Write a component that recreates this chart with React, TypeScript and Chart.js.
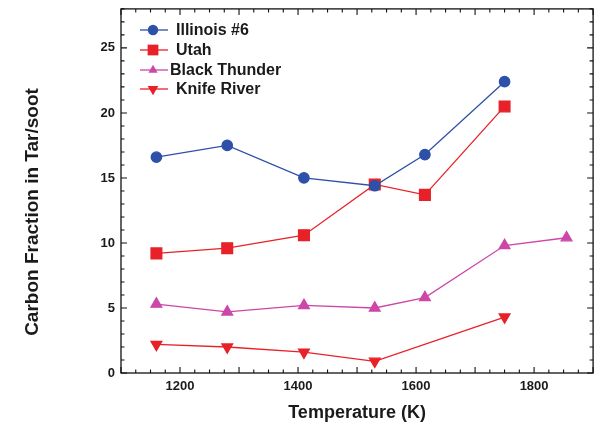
import React, { useEffect, useRef } from "react";
import { Chart, registerables } from "chart.js";

Chart.register(...registerables);

const temperatures = [1160, 1280, 1410, 1530, 1615, 1750, 1855];
const illinois = [16.6, 17.5, 15.0, 14.4, 16.8, 22.4];
const utah = [9.2, 9.6, 10.6, 14.5, 13.7, 20.5];
const blackThunder = [5.3, 4.7, 5.2, 5.0, 5.8, 9.8, 10.4];
const knifeRiverTemps = [1160, 1280, 1410, 1530, 1750];
const knifeRiver = [2.2, 2.0, 1.6, 0.9, 4.3];
const seriesNames = ["Illinois #6", "Utah", "Black Thunder", "Knife River"];
const xTickLabels = [1200, 1400, 1600, 1800];
const yTickLabels = [0, 5, 10, 15, 20, 25];
const xTitle = "Temperature (K)";
const yTitle = "Carbon Fraction in Tar/soot";

const FONT = "'Liberation Sans', Arial, sans-serif";

function drawMarker(ctx: any, style: string, x: number, y: number, r: number, rot: number) {
  ctx.beginPath();
  if (style === "circle") {
    ctx.arc(x, y, r, 0, Math.PI * 2);
  } else if (style === "rect") {
    const s = Math.SQRT1_2 * r;
    ctx.rect(x - s, y - s, 2 * s, 2 * s);
  } else {
    const ang = (rot * Math.PI) / 180;
    for (let k = 0; k < 3; k++) {
      const t = ang - Math.PI / 2 + (k * 2 * Math.PI) / 3;
      const px = x + Math.cos(t) * r;
      const py = y + Math.sin(t) * r;
      if (k === 0) ctx.moveTo(px, py);
      else ctx.lineTo(px, py);
    }
    ctx.closePath();
  }
  ctx.fill();
}

const framePlugin = {
  id: "frameTicks",
  afterDraw(chart: any) {
    const { ctx, chartArea: a, scales } = chart;
    const xs = scales.x;
    const ys = scales.y;
    ctx.save();
    ctx.strokeStyle = "#111";
    ctx.lineWidth = 1.3;
    ctx.strokeRect(a.left, a.top, a.right - a.left, a.bottom - a.top);
    ctx.lineWidth = 1.1;
    ctx.beginPath();
    for (let v = 1100; v <= 1900; v += 25) {
      const px = xs.getPixelForValue(v);
      const len = v % 100 === 0 ? 6 : 3.5;
      ctx.moveTo(px, a.bottom);
      ctx.lineTo(px, a.bottom - len);
      ctx.moveTo(px, a.top);
      ctx.lineTo(px, a.top + len);
    }
    for (let v = 0; v <= 28; v += 1) {
      const py = ys.getPixelForValue(v);
      const len = v % 5 === 0 ? 6 : 3.5;
      ctx.moveTo(a.left, py);
      ctx.lineTo(a.left + len, py);
      ctx.moveTo(a.right, py);
      ctx.lineTo(a.right - len, py);
    }
    ctx.stroke();

    // axis titles
    ctx.fillStyle = "#1a1a1a";
    ctx.font = `bold 18px ${FONT}`;
    ctx.textAlign = "center";
    ctx.textBaseline = "middle";
    ctx.fillText(xTitle, (a.left + a.right) / 2, 413);
    ctx.save();
    ctx.translate(33, 212);
    ctx.rotate(-Math.PI / 2);
    ctx.font = `bold 19px ${FONT}`;
    ctx.fillText(yTitle, 0, 0);
    ctx.restore();

    // legend
    const ds = chart.data.datasets;
    const rows = [30, 50, 70, 89];
    ds.forEach((d: any, i: number) => {
      const y = rows[i];
      ctx.strokeStyle = d.borderColor;
      ctx.lineWidth = 1.3;
      ctx.beginPath();
      ctx.moveTo(140, y);
      ctx.lineTo(168, y);
      ctx.stroke();
      ctx.fillStyle = d.pointBackgroundColor;
      const r = i === 2 ? d.pointRadius * 0.85 : d.pointRadius;
      drawMarker(ctx, d.pointStyle, 153, y, r, d.pointRotation || 0);
      ctx.fillStyle = "#1a1a1a";
      ctx.font = `bold 16px ${FONT}`;
      ctx.textAlign = "left";
      ctx.textBaseline = "middle";
      ctx.fillText(seriesNames[i], i === 2 ? 170 : 176, y + 1);
    });
    ctx.restore();
  },
};

const CANVAS_W = 602;

export default function App() {
  const ref = useRef<HTMLCanvasElement>(null);
  useEffect(() => {
    if (!ref.current) return;
    const toPts = (xsArr: number[], ysArr: number[]) => ysArr.map((v, i) => ({ x: xsArr[i], y: v }));
    const blue = "#2d50a8";
    const red = "#e82128";
    const magenta = "#cc47a8";
    const mk = (label: string, data: any[], color: string, style: string, radius: number, rotation = 0) => ({
      label,
      data,
      borderColor: color,
      backgroundColor: color,
      pointBackgroundColor: color,
      pointBorderColor: color,
      pointStyle: style,
      pointRotation: rotation,
      pointRadius: radius,
      borderWidth: 1.3,
    });
    const chart = new Chart(ref.current, {
      type: "line",
      data: {
        datasets: [
          mk(seriesNames[0], toPts(temperatures, illinois), blue, "circle", 5.2),
          mk(seriesNames[1], toPts(temperatures, utah), red, "rect", 7.6),
          mk(seriesNames[2], toPts(temperatures, blackThunder), magenta, "triangle", 6.2),
          mk(seriesNames[3], toPts(knifeRiverTemps, knifeRiver), red, "triangle", 6.2, 180),
        ] as any,
      },
      options: {
        responsive: false,
        animation: false,
        layout: { padding: { top: 8, right: 2, left: 0, bottom: 0 } },
        plugins: { legend: { display: false }, tooltip: { enabled: false } },
        elements: { line: { tension: 0 }, point: { borderWidth: 0 } },
        scales: {
          x: {
            type: "linear",
            min: 1100,
            max: 1900,
            grid: { display: false, drawTicks: false },
            border: { display: false },
            afterFit: (s: any) => {
              s.height = 57;
              s.paddingLeft = 0;
              s.paddingRight = 0;
            },
            ticks: {
              stepSize: 100,
              autoSkip: false,
              includeBounds: false,
              maxRotation: 0,
              padding: 6,
              color: "#1a1a1a",
              font: { family: FONT, size: 13, weight: "bold" },
              callback: (v: any) => (xTickLabels.includes(v) ? String(v) : ""),
            },
          },
          y: {
            type: "linear",
            min: 0,
            max: 28,
            grid: { display: false, drawTicks: false },
            border: { display: false },
            afterFit: (s: any) => {
              s.width = 121;
              s.paddingTop = 0;
              s.paddingBottom = 0;
            },
            ticks: {
              stepSize: 5,
              autoSkip: false,
              includeBounds: false,
              padding: 6,
              color: "#1a1a1a",
              font: { family: FONT, size: 13, weight: "bold" },
              callback: (v: any) => (yTickLabels.includes(v) ? String(v) : ""),
            },
          },
        },
      } as any,
      plugins: [framePlugin],
    });
    return () => chart.destroy();
  }, []);
  return (
    <div style={{ position: "absolute", left: 0, top: 0, width: 595, height: 430, overflow: "hidden", background: "#fff" }}>
      <canvas ref={ref} width={CANVAS_W} height={430} style={{ display: "block" }} />
    </div>
  );
}
